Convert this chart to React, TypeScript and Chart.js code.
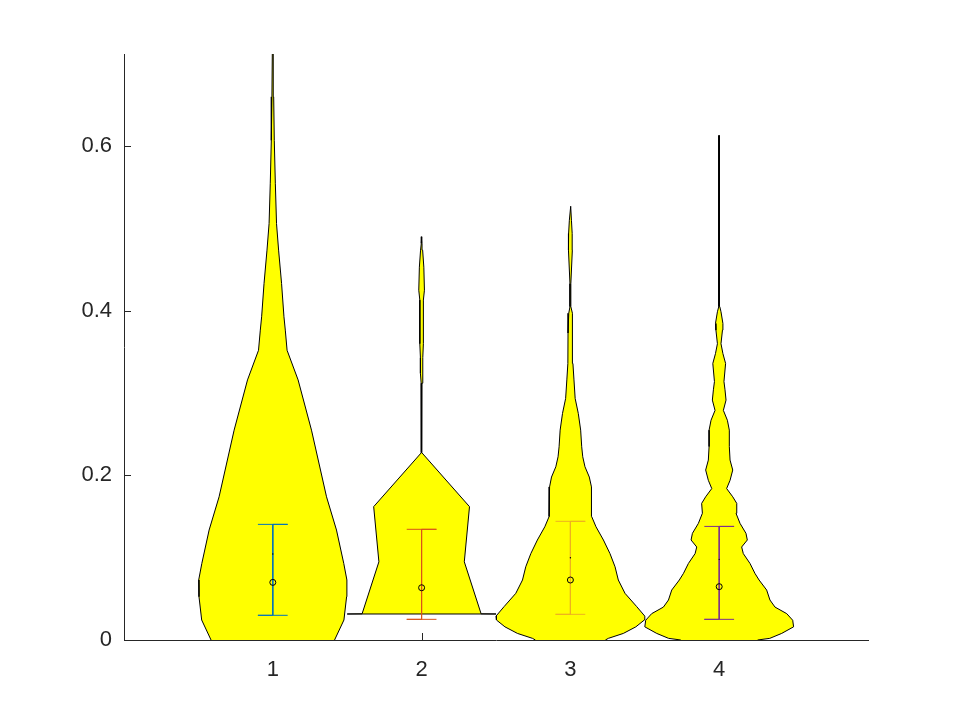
import React, { useEffect, useRef } from "react";
import { Chart, registerables } from "chart.js";

Chart.register(...registerables);

// ---- data ----
const categories = [1, 2, 3, 4];
const xTickValues = [1, 2, 3, 4];
const yTickValues = [0, 0.2, 0.4, 0.6];

// violin profiles: y values and half-widths (x units)
const violin1Y = [-0.03, 0, 0.0243, 0.0526, 0.0729, 0.093, 0.1336, 0.174, 0.255, 0.316, 0.352, 0.3765, 0.3927, 0.433, 0.4737, 0.506, 0.555, 0.607, 0.66, 0.72];
const violin1W = [0.33, 0.415, 0.478, 0.496, 0.498, 0.477, 0.428, 0.361, 0.26, 0.17, 0.096, 0.084, 0.075, 0.059, 0.039, 0.025, 0.017, 0.01, 0.006, 0.003];

const violin2Y = [0.0316, 0.0318, 0.095, 0.162, 0.2275, 0.312, 0.324, 0.343, 0.36, 0.413, 0.425, 0.453, 0.4737, 0.482, 0.49];
const violin2W = [0.5, 0.4, 0.287, 0.322, 0.002, 0.003, 0.008, 0.008, 0.012, 0.012, 0.019, 0.015, 0.007, 0.003, 0.001];

const violin3Y = [-0.01, 0, 0.002, 0.008, 0.016, 0.0243, 0.029, 0.0405, 0.0567, 0.0729, 0.089, 0.105, 0.1215, 0.1376, 0.15, 0.17, 0.186, 0.198, 0.2105, 0.2226, 0.2348, 0.255, 0.2753, 0.2935, 0.316, 0.336, 0.373, 0.397, 0.405, 0.433, 0.4737, 0.494, 0.51, 0.527];
const violin3W = [0.2, 0.235, 0.255, 0.356, 0.44, 0.497, 0.5, 0.446, 0.367, 0.322, 0.3, 0.266, 0.222, 0.172, 0.143, 0.143, 0.14, 0.127, 0.098, 0.083, 0.076, 0.069, 0.053, 0.032, 0.024, 0.017, 0.016, 0.011, 0.003, 0.003, 0.013, 0.012, 0.007, 0.002];

const violin4Y = [-0.01, 0, 0.002, 0.008, 0.016, 0.024, 0.032, 0.04, 0.0486, 0.0607, 0.0729, 0.081, 0.093, 0.105, 0.113, 0.1215, 0.1296, 0.1417, 0.154, 0.166, 0.174, 0.184, 0.194, 0.2065, 0.2186, 0.235, 0.255, 0.267, 0.279, 0.2915, 0.304, 0.314, 0.336, 0.348, 0.36, 0.3765, 0.3846, 0.3988, 0.405, 0.5, 0.613];
const violin4W = [0.22, 0.258, 0.34, 0.42, 0.5, 0.494, 0.454, 0.375, 0.341, 0.319, 0.268, 0.24, 0.207, 0.162, 0.151, 0.189, 0.18, 0.14, 0.113, 0.118, 0.091, 0.05, 0.073, 0.091, 0.073, 0.068, 0.068, 0.055, 0.028, 0.046, 0.039, 0.032, 0.043, 0.025, 0.012, 0.022, 0.025, 0.012, 0.004, 0.002, 0.002];

// statistics markers
const circleY = [0.07, 0.0635, 0.0729, 0.0648];
const dotY: (number | null)[] = [0.1045, null, 0.1, 0.098];
const lowerY = [0.03, 0.0251, 0.0312, 0.0251];
const upperY = [0.1405, 0.1345, 0.1442, 0.138];
const barColors = ["#0072BD", "#D95319", "#EDB120", "#7E2F8E"];

const violinYs = [violin1Y, violin2Y, violin3Y, violin4Y];
const violinWs = [violin1W, violin2W, violin3W, violin4W];

const AXIS_COLOR = "#262626";
const FONT = "'Liberation Sans', Arial, Helvetica, sans-serif";
const CAP = 0.1;

function violinPolygon(k: number, ys: number[], ws: number[]) {
  const right = ys.map((y, i) => ({ x: k + ws[i], y }));
  const left = ys.map((y, i) => ({ x: k - ws[i], y })).reverse();
  return [...right, ...left, right[0]];
}

function errorBar(k: number, lo: number, hi: number) {
  return [
    { x: k - CAP, y: hi },
    { x: k + CAP, y: hi },
    { x: k, y: hi },
    { x: k, y: lo },
    { x: k - CAP, y: lo },
    { x: k + CAP, y: lo },
  ];
}

const innerTicks = {
  id: "innerTicks",
  beforeDatasetsDraw(chart: any) {
    const ctx = chart.ctx;
    const xs = chart.scales.x;
    const ys = chart.scales.y;
    const area = chart.chartArea;
    ctx.save();
    ctx.strokeStyle = AXIS_COLOR;
    ctx.lineWidth = 1;
    ctx.beginPath();
    xs.ticks.forEach((t: any) => {
      const px = Math.round(xs.getPixelForValue(t.value)) + 0.5;
      ctx.moveTo(px, area.bottom);
      ctx.lineTo(px, area.bottom - 7);
    });
    ys.ticks.forEach((t: any) => {
      const py = Math.round(ys.getPixelForValue(t.value)) + 0.5;
      ctx.moveTo(area.left, py);
      ctx.lineTo(area.left + 7, py);
    });
    ctx.stroke();
    ctx.restore();
  },
};

export default function App() {
  const ref = useRef<HTMLCanvasElement | null>(null);

  useEffect(() => {
    document.body.style.margin = "0";
    if (!ref.current) return;

    const datasets: any[] = [];
    categories.forEach((k, i) => {
      datasets.push({
        type: "scatter",
        data: violinPolygon(k, violinYs[i], violinWs[i]),
        showLine: true,
        fill: "shape",
        backgroundColor: "#FFFF00",
        borderColor: "#000000",
        borderWidth: 1,
        pointRadius: 0,
        tension: 0,
        order: 3,
      });
      datasets.push({
        type: "scatter",
        data: errorBar(k, lowerY[i], upperY[i]),
        showLine: true,
        fill: false,
        borderColor: barColors[i],
        borderWidth: 1,
        pointRadius: 0,
        tension: 0,
        order: 2,
      });
      datasets.push({
        type: "scatter",
        data: [{ x: k, y: circleY[i] }],
        pointStyle: "circle",
        pointRadius: 3,
        borderColor: "#000000",
        backgroundColor: "rgba(0,0,0,0)",
        borderWidth: 1,
        order: 1,
      });
      if (dotY[i] !== null) {
        datasets.push({
          type: "scatter",
          data: [{ x: k, y: dotY[i] }],
          pointStyle: "circle",
          pointRadius: 0.7,
          borderWidth: 0,
          backgroundColor: "#000000",
          order: 1,
        });
      }
    });

    const chart = new Chart(ref.current, {
      type: "scatter",
      data: { datasets },
      plugins: [innerTicks],
      options: {
        animation: false,
        responsive: false,
        events: [],
        layout: { padding: { left: 0, top: 54, right: 92, bottom: 0 } },
        plugins: {
          legend: { display: false },
          tooltip: { enabled: false },
        },
        scales: {
          x: {
            type: "linear",
            min: 0,
            max: 5,
            afterBuildTicks: (scale: any) => {
              scale.ticks = xTickValues.map((v) => ({ value: v }));
            },
            afterFit: (scale: any) => {
              scale.height = 80;
            },
            grid: { display: false, drawTicks: false },
            border: { display: true, color: AXIS_COLOR, width: 1 },
            ticks: {
              color: AXIS_COLOR,
              font: { family: FONT, size: 22 },
              padding: 17,
              maxRotation: 0,
              autoSkip: false,
              callback: (v: any) => String(v),
            },
          },
          y: {
            type: "linear",
            min: 0,
            max: 0.712,
            afterBuildTicks: (scale: any) => {
              scale.ticks = yTickValues.map((v) => ({ value: v }));
            },
            afterFit: (scale: any) => {
              scale.width = 124;
            },
            grid: { display: false, drawTicks: false },
            border: { display: true, color: AXIS_COLOR, width: 1 },
            ticks: {
              color: AXIS_COLOR,
              font: { family: FONT, size: 22 },
              padding: 12,
              autoSkip: false,
              callback: (v: any) => String(v),
            },
          },
        },
      } as any,
    });

    return () => chart.destroy();
  }, []);

  return (
    <div style={{ position: "absolute", left: 0, top: 0, width: 960, height: 720, background: "#ffffff" }}>
      <canvas ref={ref} width={960} height={720} />
    </div>
  );
}
